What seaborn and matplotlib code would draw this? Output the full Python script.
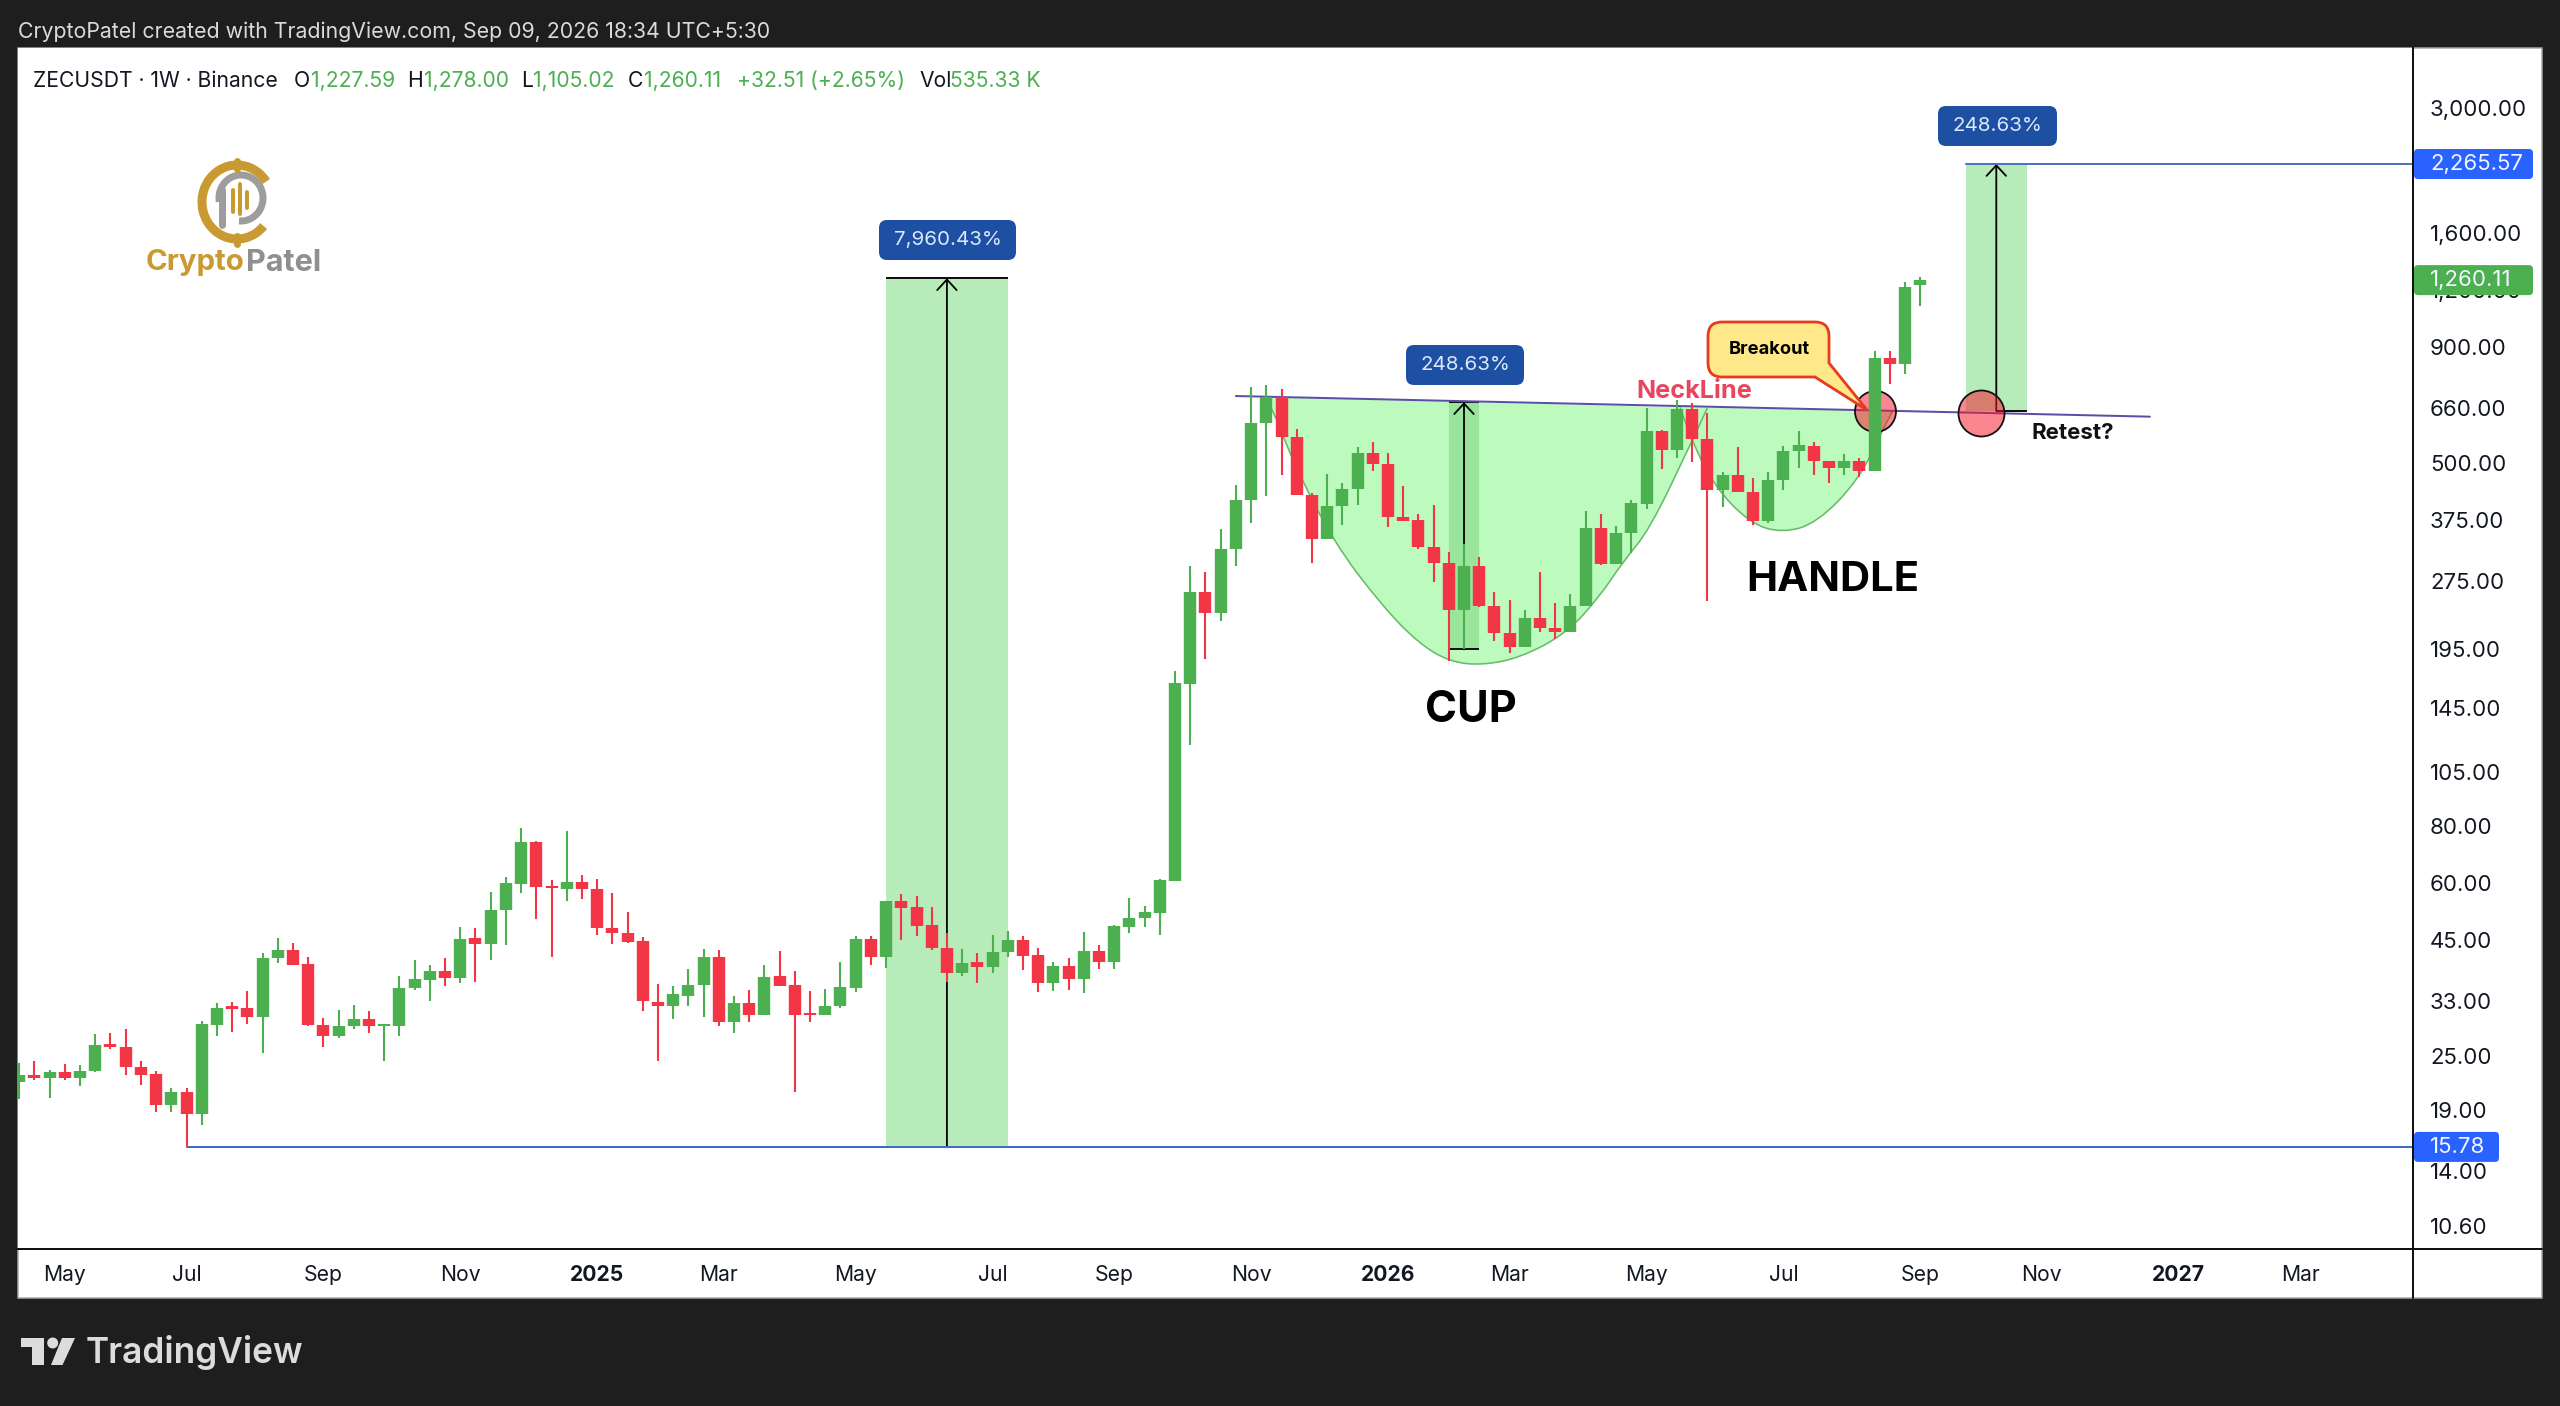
# ZECUSDT weekly chart with cup and handle markup
import pandas as pd
import matplotlib.pyplot as plt
import matplotlib.dates as mdates
import seaborn as sns
from matplotlib.patches import FancyBboxPatch, PathPatch, Polygon, Circle, Arc
from matplotlib.path import Path
from matplotlib.transforms import IdentityTransform

# weekly candles, first one is the week of 2024-04-15
first_week = "2024-04-15"
opens = [21.9, 22.65, 22.4, 23.0, 22.3, 23.1, 26.6, 26.2, 23.6, 22.85, 19.5, 20.85, 18.6, 29.2, 32.1, 31.9, 30.5, 40.9, 42.65, 39.7,
         29.25, 27.6, 29.0, 30.1, 29.1, 29.05, 35.2, 36.7, 38.3, 37.0, 45.3, 44.1, 52.2, 59.7, 73.8, 59.1, 58.2, 60.3, 58.2, 47.7,
         46.6, 44.6, 32.9, 32.1, 33.8, 35.7, 41.1, 29.6, 32.7, 30.8, 37.5, 35.7, 31.1, 30.8, 32.2, 35.3, 45.1, 41.2, 54.6, 53.1,
         48.5, 43.2, 38.0, 40.1, 39.1, 42.2, 44.9, 41.7, 36.2, 39.3, 36.9, 42.4, 40.2, 48.0, 50.1, 51.5, 60.6, 163.9, 260, 234.5,
         324, 415, 612, 698, 569, 426, 340, 403, 438, 526, 498, 381, 374, 327, 302, 238, 297, 243, 212, 197,
         228, 217, 213, 243, 360, 300, 351, 407, 589, 533, 658, 565, 437, 471, 431, 373, 459, 530, 546, 505,
         487, 505, 481, 850, 826, 1227.59]
highs = [24.1, 24.4, 23.3, 24.0, 23.9, 27.9, 28.0, 28.6, 24.35, 23.1, 21.2, 21.25, 29.8, 32.7, 32.8, 34.7, 42.0, 45.3, 44.3, 41.1,
         30.2, 31.5, 32.3, 31.3, 29.4, 37.5, 40.6, 39.5, 41.0, 48.0, 47.7, 57.3, 61.8, 79.2, 74.2, 60.9, 78.0, 62.4, 61.2, 56.8,
         51.7, 45.6, 35.9, 35.5, 38.8, 43.0, 42.65, 33.8, 34.9, 39.6, 42.4, 38.3, 34.7, 35.0, 40.1, 45.7, 45.7, 54.8, 56.7, 56.0,
         53.1, 46.5, 43.0, 42.0, 46.1, 46.9, 45.9, 43.2, 40.2, 40.9, 46.8, 43.7, 48.5, 55.5, 53.3, 61.2, 175, 296.5, 289, 359,
         448, 735, 741, 726, 593, 430, 473, 451, 541, 556, 526, 446, 386, 404, 319, 332, 311, 261, 250, 238,
         288, 246, 258, 392, 386, 364, 414, 661, 591, 688, 677, 644, 479, 543, 463, 478, 546, 588, 556, 505,
         524, 514, 882, 882, 1248, 1278.0]
lows = [20.1, 22.1, 20.2, 22.1, 21.5, 23.0, 25.9, 22.7, 21.6, 18.8, 18.85, 15.78, 17.65, 27.7, 28.2, 29.3, 25.3, 39.9, 39.5, 29.1,
        26.1, 27.4, 28.7, 28.1, 24.35, 27.6, 34.9, 33.0, 35.5, 36.2, 36.3, 40.5, 43.7, 57.0, 49.8, 41.1, 54.8, 55.1, 46.1, 44.0,
        44.3, 31.4, 24.35, 30.1, 32.2, 30.5, 29.0, 28.0, 29.6, 30.7, 35.5, 20.8, 29.7, 30.7, 31.9, 34.6, 39.6, 38.9, 44.9, 45.9,
        42.7, 36.3, 37.4, 36.2, 38.0, 41.1, 38.5, 34.6, 34.7, 34.9, 34.4, 38.7, 38.7, 46.6, 48.0, 46.1, 60.6, 120.5, 186, 225.4,
        296.5, 369, 423, 470, 425, 301, 340, 365, 405, 481, 362, 373, 324, 274, 184, 195, 242, 203, 191, 197,
        213, 206, 213, 243, 299, 300, 317, 397, 485, 514, 502, 249, 400, 431, 366, 369, 437, 488, 471, 451,
        470, 466, 481, 747, 784, 1105.02]
closes = [22.65, 22.4, 23.0, 22.3, 23.1, 26.4, 26.2, 23.6, 22.7, 19.5, 20.85, 18.6, 29.3, 31.9, 31.7, 30.5, 41.0, 42.65, 39.6, 29.25,
          27.6, 29.1, 30.1, 29.0, 29.3, 35.3, 36.8, 38.3, 37.0, 45.2, 44.1, 52.3, 59.9, 73.8, 58.8, 58.5, 60.3, 58.2, 47.6, 46.5,
          44.5, 33.0, 32.1, 34.1, 35.8, 41.1, 29.6, 32.7, 30.8, 37.3, 35.5, 30.8, 30.8, 32.2, 35.4, 45.1, 41.2, 54.6, 52.7, 48.3,
          43.2, 38.0, 39.9, 39.1, 42.3, 44.9, 41.5, 36.2, 39.3, 36.9, 42.4, 40.2, 48.2, 50.2, 51.6, 60.7, 164.8, 260, 234.8, 324,
          415, 612, 698, 570, 425, 340, 403, 438, 526, 497, 380, 373, 327, 302, 238, 297, 243, 212, 197, 228,
          217, 213, 243, 360, 300, 351, 408, 589, 533, 658, 564, 437, 470, 431, 373, 459, 532, 547, 505, 487,
          505, 481, 848, 825, 1220, 1260.11]

# price scale
price_ticks = [3000, 1600, 1200, 900, 660, 500, 375, 275, 195, 145, 105, 80, 60, 45, 33, 25, 19, 14, 10.6]
price_labels = ["3,000.00", "1,600.00", "1,200.00", "900.00", "660.00", "500.00", "375.00", "275.00", "195.00", "145.00",
                "105.00", "80.00", "60.00", "45.00", "33.00", "25.00", "19.00", "14.00", "10.60"]
month_ticks = ["2024-05-06", "2024-07-01", "2024-09-02", "2024-11-04", "2025-01-06", "2025-03-03", "2025-05-05", "2025-07-07",
               "2025-09-01", "2025-11-03", "2026-01-05", "2026-03-02", "2026-05-04", "2026-07-06", "2026-09-07", "2026-11-02",
               "2027-01-04", "2027-03-01"]
month_labels = ["May", "Jul", "Sep", "Nov", "2025", "Mar", "May", "Jul", "Sep", "Nov", "2026", "Mar", "May", "Jul", "Sep", "Nov",
                "2027", "Mar"]

# drawn levels, weeks are counted from first_week
support_level = 15.78
target_level = 2265.57
last_close = 1260.11
low_week = 11
big_move_weeks = [57, 61, 65]
big_move_top = 1272
cup_move_weeks = [94, 95, 96]
cup_move_prices = [195, 680]
next_move_weeks = [128, 130, 132]
next_move_bottom = 650
neck_weeks = [80, 140.1]
neck_prices = [701.5, 632]
cup_weeks = [81.9, 82.4, 83.7, 86.4, 89.7, 92.1, 94.1, 96.2, 98.7, 101.7, 103.9, 105.4, 107.2, 109.9, 111.0]
cup_prices = [698, 661, 508, 336, 241, 200, 183, 180, 187, 211, 254, 302, 357, 550, 660]
handle_weeks = [109.2, 110.0, 111.5, 113.8, 115.9, 118.2, 121.0, 122.5, 123.2]
handle_prices = [663, 556, 443, 369, 351, 369, 461, 591, 651]
circle_weeks = [122, 129]
circle_prices = [650, 645]

W, H = 2560, 1406
GREEN = "#4caf50"
RED = "#f23645"
DARK = "#1e1e1e"
INK = "#131722"
PX = 72 / 200  # one image pixel in points
CIRCLE_FILL = (0.965, 0.09, 0.17, 0.52)

sns.set_theme(style="white")
plt.rcParams["font.family"] = ["Inter", "DejaVu Sans"]

base = mdates.date2num(pd.Timestamp(first_week))


def wk(i):
    return base + 7 * i


fig = plt.figure(figsize=(W / 200, H / 200), dpi=200, facecolor=DARK)
ax = fig.add_axes([18 / W, 1 - 1249 / H, (2413 - 18) / W, (1249 - 48) / H])
ax.set_facecolor("white")
ax.set_yscale("log")
ax.set_xlim(wk(-0.08), wk(157.4))
ax.set_ylim(9.42, 4072)

# white panel behind the chart and both axis strips
fig.add_artist(plt.Rectangle((18, H - 1298), 2542 - 18, 1298 - 48, fc="white", ec="#a8a8a8", lw=1.5 * PX,
                             transform=IdentityTransform(), zorder=-1))


def smooth_patch(xs, ys):
    # quadratic spline through the read points, closed along the top edge
    pts = list(zip(xs, ys))
    verts, codes = [pts[0]], [Path.MOVETO]
    for k in range(1, len(pts) - 1):
        if k == len(pts) - 2:
            end = pts[-1]
        else:
            end = ((pts[k][0] + pts[k + 1][0]) / 2, (pts[k][1] * pts[k + 1][1]) ** 0.5)
        verts += [pts[k], end]
        codes += [Path.CURVE3, Path.CURVE3]
    verts.append(pts[0])
    codes.append(Path.CLOSEPOLY)
    return Path(verts, codes)


# cup and handle shapes
for wks, prices in [(cup_weeks, cup_prices), (handle_weeks, handle_prices)]:
    path = smooth_patch([wk(i) for i in wks], prices)
    ax.add_patch(PathPatch(path, fc="#bcfabe", ec="none", zorder=1))
for wks, prices in [(cup_weeks, cup_prices), (handle_weeks, handle_prices)]:
    path = smooth_patch([wk(i) for i in wks], prices)
    verts, codes = path.vertices[:-1], path.codes[:-1]
    ax.add_patch(PathPatch(Path(verts, codes), fc="none", ec="#68bb6c", lw=1.6 * PX, zorder=1.2))

# measured move zones
ax.fill_between([wk(big_move_weeks[0]), wk(big_move_weeks[2])], support_level, big_move_top, color="#b7ebb9", lw=0, zorder=1.5)
ax.fill_between([wk(cup_move_weeks[0]), wk(cup_move_weeks[2])], cup_move_prices[0], cup_move_prices[1], color="#9ae59c", lw=0, zorder=1.5)
ax.fill_between([wk(next_move_weeks[0]), wk(next_move_weeks[2])], next_move_bottom, target_level, color="#b7ebb9", lw=0, zorder=1.5)

for a, b, level in [(big_move_weeks[0], big_move_weeks[2], big_move_top), (big_move_weeks[0], big_move_weeks[2], support_level),
                    (cup_move_weeks[0], cup_move_weeks[2], cup_move_prices[0]), (cup_move_weeks[0], cup_move_weeks[2], cup_move_prices[1]),
                    (next_move_weeks[1], next_move_weeks[2], next_move_bottom)]:
    ax.plot([wk(a), wk(b)], [level, level], color="#111111", lw=2 * PX, solid_capstyle="butt", zorder=1.8)

arrow = dict(arrowstyle="->,head_length=0.27,head_width=0.25", color="black", lw=1.8 * PX, shrinkA=0, shrinkB=0, mutation_scale=14)
for week, low, high in [(big_move_weeks[1], support_level, big_move_top), (cup_move_weeks[1], cup_move_prices[0], cup_move_prices[1]),
                        (next_move_weeks[1], next_move_bottom, target_level)]:
    ann = ax.annotate("", xy=(wk(week), high), xytext=(wk(week), low), arrowprops=arrow, zorder=2)
    ann.arrow_patch.set_zorder(2)

# levels and neckline
ax.plot([wk(low_week), wk(157.4)], [support_level, support_level], color="#3a6fc4", lw=2 * PX, zorder=2.2)
ax.plot([wk(next_move_weeks[0]), wk(157.4)], [target_level, target_level], color="#4f74b8", lw=2 * PX, zorder=2.2)
ax.plot([wk(neck_weeks[0]), wk(neck_weeks[1])], neck_prices, color="#5a4fa5", lw=2 * PX, zorder=2.2)

# candles, wicks and bodies as long form lines
dirs = ["up" if c >= o else "down" for o, c in zip(opens, closes)]
x_vals = [wk(i) for i in range(len(opens))]
wicks = pd.DataFrame({"candle": list(range(len(opens))) * 2, "date": x_vals * 2, "price": highs + lows, "direction": dirs * 2})
bodies = pd.DataFrame({"candle": list(range(len(opens))) * 2, "date": x_vals * 2, "price": opens + closes, "direction": dirs * 2})
colors = {"up": GREEN, "down": RED}

circles = pd.DataFrame({"date": [wk(i) for i in circle_weeks], "price": circle_prices})
sns.scatterplot(data=circles.iloc[[0]], x="date", y="price", s=(41 * PX) ** 2, color="#f9808c", edgecolor="#111111",
                linewidth=1.8 * PX, zorder=2.4, ax=ax, legend=False)
ax.collections[-1].set_facecolor(CIRCLE_FILL)

sns.lineplot(data=wicks, x="date", y="price", hue="direction", units="candle", estimator=None, palette=colors, sort=False,
             linewidth=2.1 * PX, solid_capstyle="butt", legend=False, zorder=3, ax=ax)
sns.lineplot(data=bodies, x="date", y="price", hue="direction", units="candle", estimator=None, palette=colors, sort=False,
             linewidth=12.4 * PX, solid_capstyle="butt", legend=False, zorder=3.1, ax=ax)

sns.scatterplot(data=circles.iloc[[1]], x="date", y="price", s=(46 * PX) ** 2, color="#fb7f8b", edgecolor="#111111",
                linewidth=1.8 * PX, zorder=3.5, ax=ax, legend=False)
ax.collections[-1].set_facecolor(CIRCLE_FILL)

# axes
ax.set_xlabel("")
ax.set_ylabel("")
ax.set_xlim(wk(-0.08), wk(157.4))
ax.set_ylim(9.42, 4072)
ax.yaxis.tick_right()
ax.minorticks_off()
ax.set_yticks(price_ticks)
ax.set_yticklabels(price_labels)
ax.set_xticks(mdates.date2num(pd.to_datetime(month_ticks)))
ax.set_xticklabels(month_labels)
ax.tick_params(axis="y", length=0, pad=17 * PX, labelsize=8.0, labelcolor=INK)
ax.tick_params(axis="x", length=0, pad=5.6, labelsize=7.6, labelcolor=INK)
ax.minorticks_off()
for lab in ax.get_xticklabels():
    if lab.get_text().startswith("20"):
        lab.set_fontweight("bold")
for side in ["top", "left"]:
    ax.spines[side].set_visible(False)
ax.spines["right"].set_color("#111111")
ax.spines["right"].set_linewidth(2 * PX)
ax.spines["bottom"].set_color("#111111")
ax.spines["bottom"].set_linewidth(2 * PX)

# axis lines that run on into the strips
fig.add_artist(plt.Line2D([2413, 2413], [H - 1298, H - 1249], color="#111111", lw=2 * PX, transform=IdentityTransform(), zorder=1))
fig.add_artist(plt.Line2D([2413, 2542], [H - 1249, H - 1249], color="#111111", lw=2 * PX, transform=IdentityTransform(), zorder=1))


def box(x0, y0, x1, y1, color, r=6):
    fig.add_artist(FancyBboxPatch((x0 + r, H - y1 + r), x1 - x0 - 2 * r, y1 - y0 - 2 * r, boxstyle=f"round,pad={r},rounding_size={r}",
                                  fc=color, ec="none", transform=IdentityTransform(), zorder=10))


def label(x, y, s, **kw):
    kw.setdefault("zorder", 11)
    kw.setdefault("va", "center")
    return fig.text(x / W, 1 - y / H, s, **kw)


def price_y(price):
    return H - ax.transData.transform((ax.get_xlim()[0], price))[1]


# price badges
for price, text, color, right in [(target_level, "2,265.57", "#2962ff", 2533), (last_close, "1,260.11", GREEN, 2533), (support_level, "15.78", "#2962ff", 2499)]:
    yc = price_y(price)
    box(2414, yc - 15, right, yc + 15, color, r=4)
    label(2430, yc, text, color="#f2f6ff", fontsize=8.0)

# measured move badges
for x0, y0, x1, y1, text in [(879, 220, 1016, 260, "7,960.43%"), (1406, 345, 1524, 385, "248.63%"), (1938, 106, 2057, 146, "248.63%")]:
    box(x0, y0, x1, y1, "#1d4fa3", r=8)
    label((x0 + x1) / 2, (y0 + y1) / 2, text, color="#dbe8fb", fontsize=7.4, ha="center")

# breakout callout
x0, x1, y0, y1, r = 1708, 1829, 322, 377, 14
verts = [(x0 + r, y0), (x1 - r, y0), (x1, y0), (x1, y0 + r), (x1, 363), (1867, 410), (1815, y1), (x0 + r, y1), (x0, y1), (x0, y1 - r),
         (x0, y0 + r), (x0, y0), (x0 + r, y0), (x0 + r, y0)]
codes = [Path.MOVETO, Path.LINETO, Path.CURVE3, Path.CURVE3, Path.LINETO, Path.LINETO, Path.LINETO, Path.LINETO, Path.CURVE3, Path.CURVE3,
         Path.LINETO, Path.CURVE3, Path.CURVE3, Path.CLOSEPOLY]
fig.add_artist(PathPatch(Path([(x, H - y) for x, y in verts], codes), fc="#ffe88a", ec="#e83a1e", lw=2.8 * PX, transform=IdentityTransform(), zorder=10))
label(1769, 349, "Breakout", color="black", fontsize=6.6, fontweight="bold", ha="center")

# chart notes
label(1694, 391, "NeckLine", color="#e8455f", fontsize=9.1, fontweight="bold", ha="center")
label(1471, 710, "CUP", color="black", fontsize=15.6, fontweight="bold", ha="center")
label(1833, 580, "HANDLE", color="black", fontsize=15, fontweight="bold", ha="center")
label(2073, 433, "Retest?", color="#111111", fontsize=8.0, fontweight="bold", ha="center")

# header and legend line
label(18, 32, "CryptoPatel created with TradingView.com, Sep 09, 2026 18:34 UTC+5:30", color="#dadada", fontsize=7.68)
for x, s, c in [(33, "ZECUSDT · 1W · Binance", INK), (294, "O", INK), (311, "1,227.59", GREEN), (407, "H", INK), (424, "1,278.00", GREEN),
                (521, "L", INK), (533, "1,105.02", GREEN), (628, "C", INK), (644, "1,260.11", GREEN), (737, "+32.51 (+2.65%)", GREEN),
                (919, "Vol", INK), (950, "535.33 K", GREEN)]:
    label(x, 81, s, color=c, fontsize=7.6)

# CryptoPatel logo
for arc in [Arc((237, H - 202), 70, 74, theta1=35, theta2=318, ec="#c99a32", lw=9 * PX, transform=IdentityTransform(), zorder=9),
            Arc((241, H - 198), 44, 46, theta1=-95, theta2=190, ec="#9d9d9d", lw=7 * PX, transform=IdentityTransform(), zorder=9)]:
    fig.add_artist(arc)
fig.add_artist(plt.Line2D([222, 222], [H - 225, H - 190], color="#9d9d9d", lw=7 * PX, transform=IdentityTransform(), zorder=9))
for x, top, bottom in [(233, 190, 212), (240, 184, 214), (247, 192, 208)]:
    fig.add_artist(plt.Line2D([x, x], [H - bottom, H - top], color="#c99a32", lw=4 * PX, transform=IdentityTransform(), zorder=9))
for yy in [165, 240]:
    fig.add_artist(plt.Line2D([237, 237], [H - yy - 4, H - yy + 4], color="#c99a32", lw=7 * PX, transform=IdentityTransform(), zorder=9))
label(146, 263, "Crypto", color="#c99a32", fontsize=10.6, fontweight="bold")
label(246, 263, "Patel", color="#8f8f8f", fontsize=11.0, fontweight="bold")

# TradingView mark in the footer
tv = "#dcdcdc"
fig.add_artist(Polygon([(21, H - 1338), (44, H - 1338), (44, H - 1365), (32, H - 1365), (32, H - 1347), (21, H - 1347)], fc=tv, ec="none", transform=IdentityTransform(), zorder=9))
fig.add_artist(Circle((52.7, H - 1343), 5.5, fc=tv, ec="none", transform=IdentityTransform(), zorder=9))
fig.add_artist(Polygon([(62, H - 1338), (75, H - 1338), (62.5, H - 1365), (51, H - 1365)], fc=tv, ec="none", transform=IdentityTransform(), zorder=9))
label(86, 1353, "TradingView", color=tv, fontsize=12.7, fontweight="semibold")

fig.savefig("out.png", dpi=200, facecolor=DARK)
